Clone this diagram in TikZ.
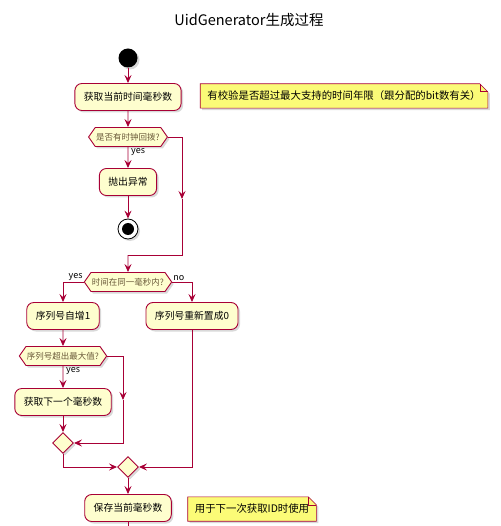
\documentclass[tikz,border=0pt]{standalone}
\usepackage{fontspec}
\setmainfont{Noto Sans CJK SC}
\usetikzlibrary{shapes.geometric,shapes.symbols,shadows,backgrounds,arrows.meta}
\definecolor{umlred}{HTML}{A80036}
\definecolor{umlfill}{HTML}{FEFECE}
\definecolor{notefill}{HTML}{FBFB77}
\definecolor{condtext}{HTML}{6B5A3A}
\tikzset{
  umlshadow/.style={drop shadow={shadow xshift=2pt,shadow yshift=-2pt,opacity=0.3}},
  action/.style={rectangle, rounded corners=7pt, draw=umlred, fill=umlfill, line width=0.9pt,
    minimum height=27pt, inner xsep=9pt, font=\fontsize{9.8}{11}\selectfont, umlshadow},
  cond/.style={signal, signal to=west and east, signal pointer angle=110, draw=umlred, fill=umlfill,
    line width=0.9pt, minimum height=19pt, inner xsep=1pt, inner ysep=1pt,
    font=\fontsize{8.5}{10}\selectfont, text=condtext, umlshadow},
  merge/.style={diamond, draw=umlred, fill=umlfill, line width=0.9pt, minimum size=21pt, inner sep=0pt, umlshadow},
  notetext/.style={inner xsep=7pt, minimum height=24pt, font=\fontsize{10.4}{12}\selectfont},
  lbl/.style={font=\fontsize{9}{10}\selectfont, inner sep=1pt},
  flow/.style={draw=umlred, line width=0.9pt},
  arr/.style={flow, -{Stealth[length=8pt,width=7pt,inset=3pt]}},
}
% folded note drawn behind a text node
\newcommand{\notebox}[1]{%
  \begin{pgfonlayer}{background}
    \draw[draw=umlred, fill=notefill, line width=0.6pt, umlshadow] (#1.south west) -- (#1.north west)
      -- ([xshift=-8pt]#1.north east) -- ([yshift=-8pt]#1.north east) -- (#1.south east) -- cycle;
    \draw[draw=umlred, line width=0.6pt] ([xshift=-8pt]#1.north east) |- ([yshift=-8pt]#1.north east);
  \end{pgfonlayer}}

\begin{document}
\begin{tikzpicture}[x=1pt,y=-1pt]
  \useasboundingbox (0,0) rectangle (500,526);
  \node[font=\fontsize{14.5}{16}\selectfont] (title) at (249,20) {UidGenerator生成过程};

  % nodes
  \node[circle, fill=black, minimum size=19pt, inner sep=0pt, umlshadow] (start) at (128,58) {};
  \node[action] (now) at (128,97) {获取当前时间毫秒数};
  \node[notetext] (note1) at (344,96) {有校验是否超过最大支持的时间年限（跟分配的bit数有关）};
  \notebox{note1}
  \node[cond] (back) at (128,137) {是否有时钟回拨?};
  \node[action] (err) at (128,182) {抛出异常};
  \node[circle, draw=black, fill=white, line width=0.8pt, minimum size=20pt, inner sep=0pt, umlshadow] (stop) at (128,229) {};
  \fill (stop) circle (6pt);
  \node[cond] (same) at (128,282) {时间在同一毫秒内?};
  \node[action] (incr) at (63,316) {序列号自增1};
  \node[action] (reset) at (192,316) {序列号重新置成0};
  \node[cond] (max) at (63,356) {序列号超出最大值?};
  \node[action] (next) at (63,402) {获取下一个毫秒数};
  \node[merge] (m1) at (63,443) {};
  \node[merge] (m2) at (128,467) {};
  \node[action] (save) at (128,508) {保存当前毫秒数};
  \node[notetext] (note2) at (252,509) {用于下一次获取ID时使用};
  \notebox{note2}

  % labels
  \node[lbl, anchor=north west] (yes1) at ([xshift=2pt]back.south) {yes};
  \node[lbl, anchor=south east] (yes2) at (same.west) {yes};
  \node[lbl, anchor=south west] (no2) at (same.east) {no};
  \node[lbl, anchor=north west] (yes3) at ([xshift=2pt]max.south) {yes};

  % bends
  \coordinate (r1) at (182,199);
  \coordinate (j1) at (128,255);
  \coordinate (r2) at (123,400);
  \coordinate (out) at (128,530);

  % flow
  \draw[arr] (start) -- (now);
  \draw[arr] (now) -- (back);
  \draw[arr] (back) -- (err);
  \draw[arr] (err) -- (stop);
  \draw[arr] (back.east) -| (r1);
  \draw[flow] (r1) |- (j1);
  \draw[arr] (j1) -- (same);
  \draw[arr] (same.west) -| (incr);
  \draw[arr] (same.east) -| (reset);
  \draw[arr] (incr) -- (max);
  \draw[arr] (max) -- (next);
  \draw[arr] (next) -- (m1);
  \draw[arr] (max.east) -| (r2);
  \draw[arr] (r2) |- (m1.east);
  \draw[arr] (m1.south) |- (m2.west);
  \draw[arr] (reset) |- (m2.east);
  \draw[arr] (m2) -- (save);
  \draw[flow] (save) -- (out);
\end{tikzpicture}
\end{document}
